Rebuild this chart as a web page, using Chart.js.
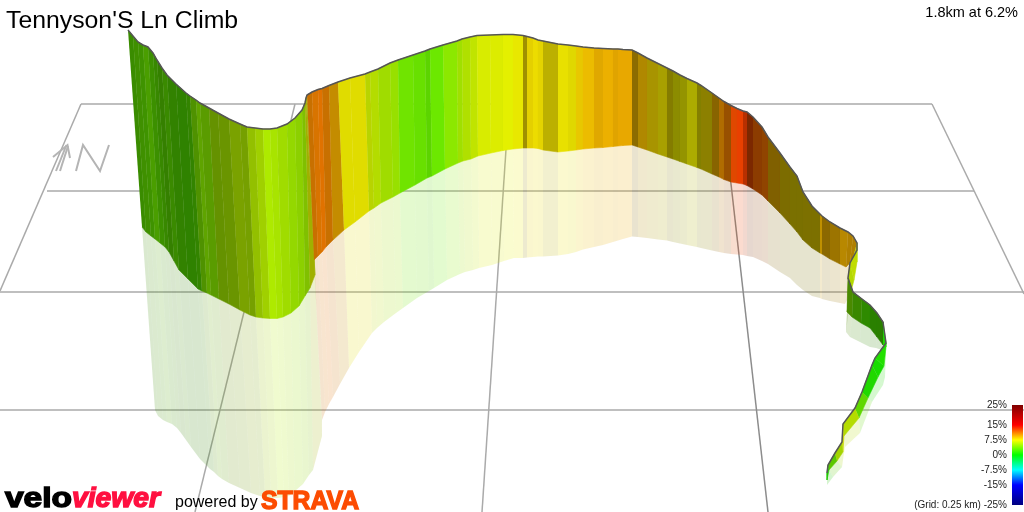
<!DOCTYPE html>
<html>
<head>
<meta charset="utf-8">
<style>
  html, body { margin: 0; padding: 0; background: #fff; }
  #chart { display: block; }
</style>
<script src="https://cdn.jsdelivr.net/npm/chart.js@4"></script>
</head>
<body>
<canvas id="chart" width="1024" height="512"></canvas>
<script>
// ribbon stations, all in the chart's own scale units
const topX = [128,133,138,143,148,153,157,162,167,176,186,190,196,200,209,218,229,240,247,255,263,270,277,287,295,302,305,306,307,312,318,322,329,338,350,365,370,378,390,398,413,425,430,443,457,462,470,477,490,503,513,523,527,533,538,543,558,568,576,583,594,603,613,618,623,632,638,647,658,667,673,680,687,697,701,712,719,724,731,737,743,747,753,762,768,780,790,797,803,812,820,822,830,840,848,853,857,857,850,848,848,853,862,870,877,883,886,875,872,862,855,843,842,835,828,827];
const topY = [30,36,42,45,47,53,60,68,75,84,93,96,100,103,108,113,119,124,127,128,129,129,128,124,118,110,103,98,95,92,89.5,88.5,85.5,82,78,74,72,69,63,60,55,51,49,45,41,39,37,35.5,35,34.5,34.5,35.5,36.5,38,40,41,44,45,46,47,48,48.5,49,49,49.5,50,53,58,63.5,68,71,75,78.5,83,85.5,93,98,101.5,105.5,108.5,111,112,117,127,137,153,167,176,192,206,214,216,222,228,232,236,243,250,263,278,278,292,299,305,313,322,343,358,365,392,408,424,442,453,465,473];
const baseX = [142,146,151,155,160,165,169,174,179,188,198,202,207,211,219,229,240,250,256,263,270,277,283,291,299,305,310,315,314,318,322,326,333,344,355,369,374,381,393,400,415,427,432,445,458,463,471,478,491,503,513,523,527,533,538,543,558,568,576,583,594,603,613,618,623,632,638,647,658,667,673,680,687,697,701,712,719,724,731,737,743,747,753,762,768,780,790,797,803,812,820,822,830,840,846,850,853,857,854,851,847,852,861,870,877,883,886,884,878,868,859,844,843,837,829,827];
const baseY = [227,232,236,239,243,247,252,261,270,279,289,291,293,295,299,304,310,315,317,318,318.5,318.5,317,313,306,296,288,275,260,256,252,247,240,230,222,211,208,203,197,193,185,178,176,169,163,161,159,156,153,150.5,149,148,148,148,148.5,150,152,151,150,149,148,147.5,146.5,146,145.5,145,147,150,154,157,159,161.5,164,167.5,169,174,177,179.5,182,183,184,185.5,189,195,201,213,224,232,240,248,253,254,259,264,267,263,258,262,280,291,312,317,323,328,337,345,347,366,377,398,418,436,452,461,470,480];
const reflX = [155,158,163,167,172,177,181,186,191,200,210,214,218,222,229,240,251,260,265,271,278,284,289,295,303,309,313,322,322,325,329,333,340,349,359,372,377,384,396,403,417,429,434,447,460,465,473,479,492,504,514,523,527,533,538,543,558,568,576,583,594,603,613,618,623,632,638,647,658,667,673,680,687,697,701,712,719,724,731,737,743,747,753,762,768,780,790,797,803,812,820,822,830,840,845,847,852,855,853,850,846,850,860,870,876,882,886,885,883,872,860,845,843,842,833,827];
const reflY = [410,416,420,422,424,428,433,440,447,459,469,472,476,479,483,488,493,496,497,498,498,497,496,491,484,475,470,436,420,412,404,397,384,368,352,333,328,322,313,308,298,291,288,280,274,272,270,268,265,261,258,258,257.5,257,256.5,256.5,255.5,254,252,249.5,247,245,242,240.5,239,236.5,237,238,239.5,240.5,242,243.5,245,247,248,250.5,252,253,254,254.5,255,256,257,261,264,272,278,285,290,296,298,299,301,303,304,300,270,272,287,300,332,337,342,347,348,350,350,377,385,402,433,447,460,467,477,485];

// shaded grade colour of the slice from each station to the next
const sliceColours = ['#3a8c00','#3f9000','#3f9300','#4a9e00','#3c9000','#388800','#358000','#3a8a00','#328200','#2f8200','#338400','#4f9200','#5fa400','#5a9c00','#659200','#6a9500','#7aa200','#76a000','#93c000','#a0d000','#aeea00','#a8e400','#a0dc00','#94d800','#8cd000','#80c000','#a0b000','#a0b000','#c87000','#d87400','#e07200','#c87000','#c48c00','#e0dc00','#e0dc00','#b8d400','#b4dc00','#a0dc00','#98e000','#70e400','#68e000','#5cd400','#6ce800','#8ce800','#a0e000','#b0e000','#c0e400','#d8ec00','#dcec00','#e4f000','#e8e800','#a09000','#e4d000','#ecdc00','#e4d400','#bcb000','#e8e000','#e0d800','#e8c800','#ecbc00','#e0a800','#ecb000','#e0a400','#e8a800','#e8a800','#8c6c00','#b08800','#a89400','#a8a000','#847c00','#8c8c00','#949400','#acac00','#848000','#8c8000','#886400','#b06c00','#985000','#e04800','#e84000','#b83000','#7c2800','#8c3c00','#904400','#806000','#7c6c00','#7a7000','#7a7000','#7c7000','#7c7000','#c09000','#8c6800','#9c7400','#b88800','#b08000','#b08000','#b8d800','#c0dc00','#b4d800','#5a8c00','#4a8a00','#3a8800','#2e8a00','#2a8000','#2a7f00','#1fd800','#22e000','#18dc00','#20d800','#60d800','#b4dc00','#c8d800','#a4d400','#5cc800','#20c800'];

// floor grid
const gridRows = [104, 191, 292, 410];
const gridRowFrom = [81, 47, 0, 0];
const gridRowTo = [932, 974, 1024, 1024];
const gridColTop = [295, 509, 722];
const gridColBottom = [195, 482, 768];
const gridEdgeX = [81, 0, 932, 1024];
const gridEdgeY = [104, 291, 104, 294];

// north marker strokes
const northX = [76, 83, 100, 109];
const northY = [171, 145, 171, 145];
const arrowX = [56, 66.5, 53, 67.5, 70, 60, 68];
const arrowY = [171, 145, 157, 145, 158, 171, 146];

// gradient key
const keyStops = ['#7f0000', '#ff0000', '#ffff00', '#00ff00', '#00ffff', '#0000ff', '#00007f'];
const keyRows = [405, 425, 440, 455, 470, 485, 505];
const keyLabels = ['25%', '15%', '7.5%', '0%', '-7.5%', '-15%', '(Grid: 0.25 km) -25%'];

const GREY = '#aaaaaa';

function poly(xs, ys, colour, width) {
  return {
    data: xs.map((x, i) => ({ x, y: ys[i] })),
    showLine: true,
    fill: false,
    borderColor: colour,
    borderWidth: width,
    pointRadius: 0,
    tension: 0
  };
}

function slice(i, xa, ya, xb, yb, colour, seam) {
  return {
    data: [
      { x: xa[i], y: ya[i] },
      { x: xa[i + 1], y: ya[i + 1] },
      { x: xb[i + 1], y: yb[i + 1] },
      { x: xb[i], y: yb[i] }
    ],
    showLine: true,
    fill: 'shape',
    backgroundColor: colour,
    borderColor: colour,
    borderWidth: seam,
    pointRadius: 0,
    tension: 0
  };
}

const layers = [];

gridRows.forEach((row, i) => {
  layers.push(poly([gridRowFrom[i], gridRowTo[i]], [row, row], GREY, 1.5));
});
gridColTop.forEach((x, i) => {
  layers.push(poly([x, gridColBottom[i]], [104, 512], i === 2 ? '#8c8c8c' : GREY, 1.5));
});
layers.push(poly(gridEdgeX.slice(0, 2), gridEdgeY.slice(0, 2), GREY, 1.5));
layers.push(poly(gridEdgeX.slice(2), gridEdgeY.slice(2), GREY, 1.5));

layers.push(poly(northX, northY, '#b4b4b4', 2));
layers.push(poly(arrowX.slice(0, 2), arrowY.slice(0, 2), '#b4b4b4', 2));
layers.push(poly(arrowX.slice(2, 5), arrowY.slice(2, 5), '#b4b4b4', 2));
layers.push(poly(arrowX.slice(5), arrowY.slice(5), '#b4b4b4', 2));

// pale reflection first, the wall goes over it
sliceColours.forEach((c, i) => {
  layers.push(slice(i, baseX, baseY, reflX, reflY, c + '30', 0));
});
sliceColours.forEach((c, i) => {
  layers.push(slice(i, topX, topY, baseX, baseY, c, 0.6));
});
layers.push(poly(topX, topY, '#555555', 1.5));

// chart.js paints the first dataset last
const datasets = layers.reverse();

const keyPlugin = {
  id: 'keyAndText',
  afterDatasetsDraw(chart) {
    const { ctx, scales: { x, y } } = chart;
    const top = y.getPixelForValue(keyRows[0]);
    const bottom = y.getPixelForValue(keyRows[keyRows.length - 1]);
    const grad = ctx.createLinearGradient(0, top, 0, bottom);
    keyRows.forEach((row, i) => grad.addColorStop((row - keyRows[0]) / (keyRows[6] - keyRows[0]), keyStops[i]));
    ctx.save();
    ctx.fillStyle = grad;
    ctx.fillRect(x.getPixelForValue(1012), top, 11, bottom - top);

    ctx.fillStyle = '#222';
    ctx.font = '10px "Liberation Sans"';
    ctx.textAlign = 'right';
    ctx.textBaseline = 'middle';
    keyLabels.forEach((label, i) => ctx.fillText(label, 1007, keyRows[i]));

    ctx.textBaseline = 'alphabetic';
    ctx.fillStyle = '#000';
    ctx.font = '14.5px "Liberation Sans"';
    ctx.fillText('1.8km at 6.2%', 1018, 17);

    ctx.textAlign = 'left';
    ctx.font = '24.8px "Liberation Sans"';
    ctx.fillText("Tennyson'S Ln Climb", 6, 28);

    ctx.font = '16px "Liberation Sans"';
    ctx.fillText('powered by', 175, 507);

    stretched(ctx, 'velo', 'bold 27px "Liberation Sans"', '#000', 5, 507, 67);
    stretched(ctx, 'viewer', 'italic bold 27px "Liberation Sans"', '#ff1040', 72, 507, 88);
    stretched(ctx, 'STRAVA', 'bold 26px "Liberation Sans"', '#fc4c02', 261, 509, 98);
    ctx.restore();
  }
};

function stretched(ctx, text, font, colour, left, baseline, width) {
  ctx.save();
  ctx.font = font;
  ctx.fillStyle = colour;
  ctx.strokeStyle = colour;
  ctx.lineWidth = 1.4;
  ctx.translate(left, baseline);
  ctx.scale(width / ctx.measureText(text).width, 1);
  ctx.fillText(text, 0, 0);
  ctx.strokeText(text, 0, 0);
  ctx.restore();
}

new Chart(document.getElementById('chart'), {
  type: 'scatter',
  data: { datasets },
  options: {
    responsive: false,
    animation: false,
    clip: false,
    plugins: { legend: { display: false }, tooltip: { enabled: false } },
    scales: {
      x: { type: 'linear', min: 0, max: 1024, display: false },
      y: { type: 'linear', min: 0, max: 512, reverse: true, display: false }
    }
  },
  plugins: [keyPlugin]
});
</script>
</body>
</html>
